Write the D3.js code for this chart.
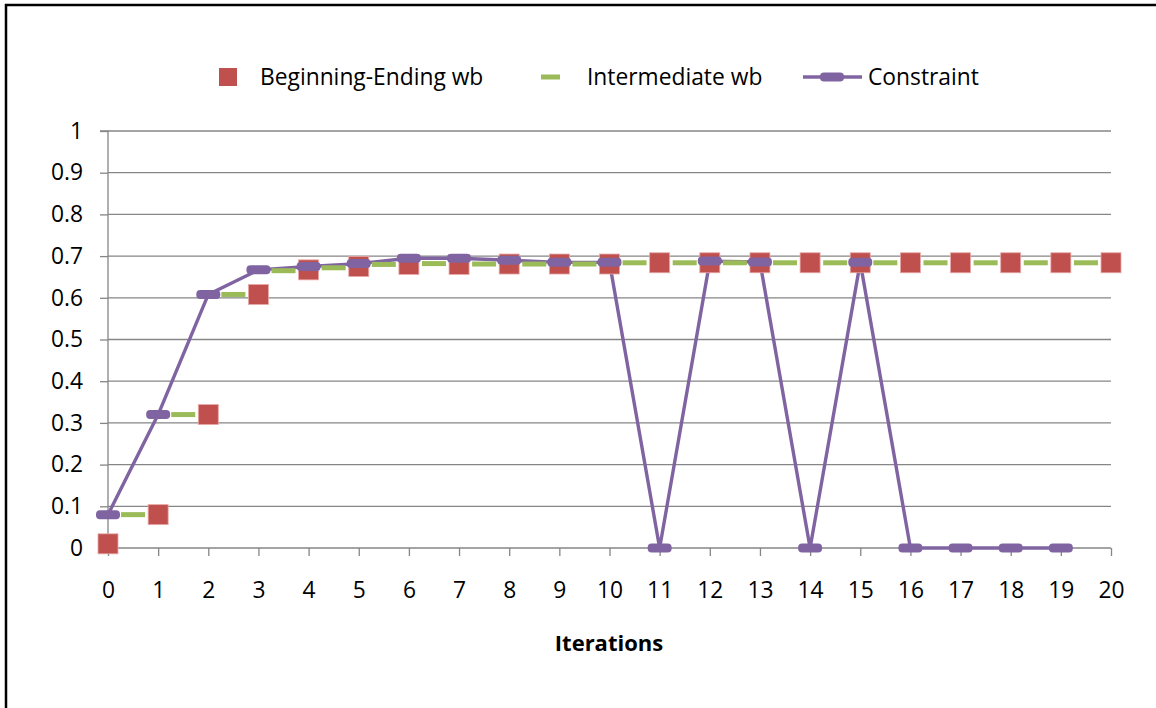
<!DOCTYPE html>
<html><head><meta charset="utf-8">
<script src="https://cdn.jsdelivr.net/npm/d3@7"></script>
<style>body{margin:0;background:#fff;} svg{display:block;} text{font-family:"Open Sans",sans-serif;}</style>
</head><body>
<svg id="c" width="1156" height="708"></svg>
<script>
const iterations = d3.range(0, 21);
const xTickLabels = ["0","1","2","3","4","5","6","7","8","9","10","11","12","13","14","15","16","17","18","19","20"];
const yTickLabels = ["0","0.1","0.2","0.3","0.4","0.5","0.6","0.7","0.8","0.9","1"];
const beginningEnding = [0.01,0.08,0.32,0.608,0.667,0.675,0.68,0.68,0.681,0.681,0.681,0.684,0.684,0.684,0.684,0.684,0.684,0.684,0.684,0.684,0.684];
const intermediateX = [0.5,1.5,2.5,3.5,4.5,5.5,6.5,7.5,8.5,9.5,10.5,11.5,12.5,13.5,14.5,15.5,16.5,17.5,18.5,19.5];
const intermediate = [0.08,0.32,0.608,0.665,0.672,0.68,0.682,0.681,0.681,0.681,0.684,0.684,0.684,0.684,0.684,0.684,0.684,0.684,0.684,0.684];
const constraintX = d3.range(0, 20);
const constraint = [0.08,0.32,0.608,0.667,0.675,0.682,0.695,0.695,0.69,0.685,0.685,0,0.688,0.686,0,0.685,0,0,0,0];
const legendLabels = ["Beginning-Ending wb","Intermediate wb","Constraint"];

const RED="#C0504D", GREEN="#9BBB59", PURPLE="#8064A2", GRID="#868686";
const FONT="Open Sans", FS=22.8;
const svg = d3.select("#c");
svg.append("rect").attr("x",6).attr("y",5).attr("width",1170).attr("height",730)
  .attr("fill","#fff").attr("stroke","#000").attr("stroke-width",2.5);

const x = d3.scaleLinear().domain([0,20]).range([108,1111]);
const y = d3.scaleLinear().domain([0,1]).range([548,131]);

const g = svg.append("g");
g.selectAll("line.grid").data(yTickLabels.map(Number).filter(v=>v>0)).join("line")
  .attr("x1",x(0)).attr("x2",x(20)).attr("y1",d=>y(d)).attr("y2",d=>y(d))
  .attr("stroke",GRID).attr("stroke-width",1.3);

const yAxis = d3.axisLeft(y).tickValues(yTickLabels.map(Number)).tickFormat((d,i)=>yTickLabels[i]).tickSize(8).tickPadding(17);
const ya = svg.append("g").attr("transform",`translate(${x(0)},0)`).call(yAxis);
ya.select(".domain").attr("stroke",GRID).attr("stroke-width",1.3).attr("d",`M-8,${y(1)}H0V${y(0)}`);
ya.selectAll(".tick line").attr("stroke",GRID).attr("stroke-width",1.3);
ya.selectAll(".tick text").attr("font-size",FS).attr("fill","#000").attr("font-family",FONT);

const xAxis = d3.axisBottom(x).tickValues(iterations).tickFormat((d,i)=>xTickLabels[i]).tickSize(8).tickPadding(26);
const xa = svg.append("g").attr("transform",`translate(0,${y(0)})`).call(xAxis);
xa.select(".domain").attr("stroke",GRID).attr("stroke-width",1.3).attr("d",`M${x(0)},0H${x(20)}`);
xa.selectAll(".tick line").attr("stroke",GRID).attr("stroke-width",1.3);
xa.selectAll(".tick text").attr("font-size",FS).attr("fill","#000").attr("font-family",FONT);

svg.append("text").attr("x",609).attr("y",651).attr("text-anchor","middle").attr("font-family",FONT)
  .attr("font-size",22).attr("font-weight","bold").text("Iterations");

svg.append("path").datum(constraint)
  .attr("d", d3.line().x((d,i)=>x(constraintX[i])).y(d=>y(d)))
  .attr("fill","none").attr("stroke",PURPLE).attr("stroke-width",3.4).attr("stroke-linejoin","round");

svg.selectAll("rect.inter").data(intermediate).join("rect")
  .attr("x",(d,i)=>x(intermediateX[i])-12).attr("y",d=>y(d)-2.5)
  .attr("width",24).attr("height",5).attr("fill",GREEN);

svg.selectAll("rect.be").data(beginningEnding).join("rect")
  .attr("x",(d,i)=>x(iterations[i])-10).attr("y",d=>y(d)-10)
  .attr("width",20).attr("height",20).attr("fill",RED).attr("stroke","#E8A9A7").attr("stroke-width",0.8);

svg.selectAll("rect.cm").data(constraint).join("rect")
  .attr("x",(d,i)=>x(constraintX[i])-12).attr("y",d=>y(d)-4.5)
  .attr("width",24).attr("height",9).attr("rx",4).attr("fill",PURPLE);

const lg = svg.append("g");
lg.append("rect").attr("x",219).attr("y",68).attr("width",18).attr("height",18).attr("fill",RED);
lg.append("rect").attr("x",541).attr("y",74.5).attr("width",19).attr("height",5).attr("fill",GREEN);
lg.append("line").attr("x1",803).attr("x2",862).attr("y1",77).attr("y2",77).attr("stroke",PURPLE).attr("stroke-width",3.4);
lg.append("rect").attr("x",820).attr("y",72.5).attr("width",24).attr("height",9).attr("rx",4).attr("fill",PURPLE);
const lx=[260,587,868];
lg.selectAll("text").data(legendLabels).join("text").attr("font-family",FONT)
  .attr("x",(d,i)=>lx[i]).attr("y",85).attr("font-size",FS).attr("fill","#000").text(d=>d);
</script>
</body></html>
